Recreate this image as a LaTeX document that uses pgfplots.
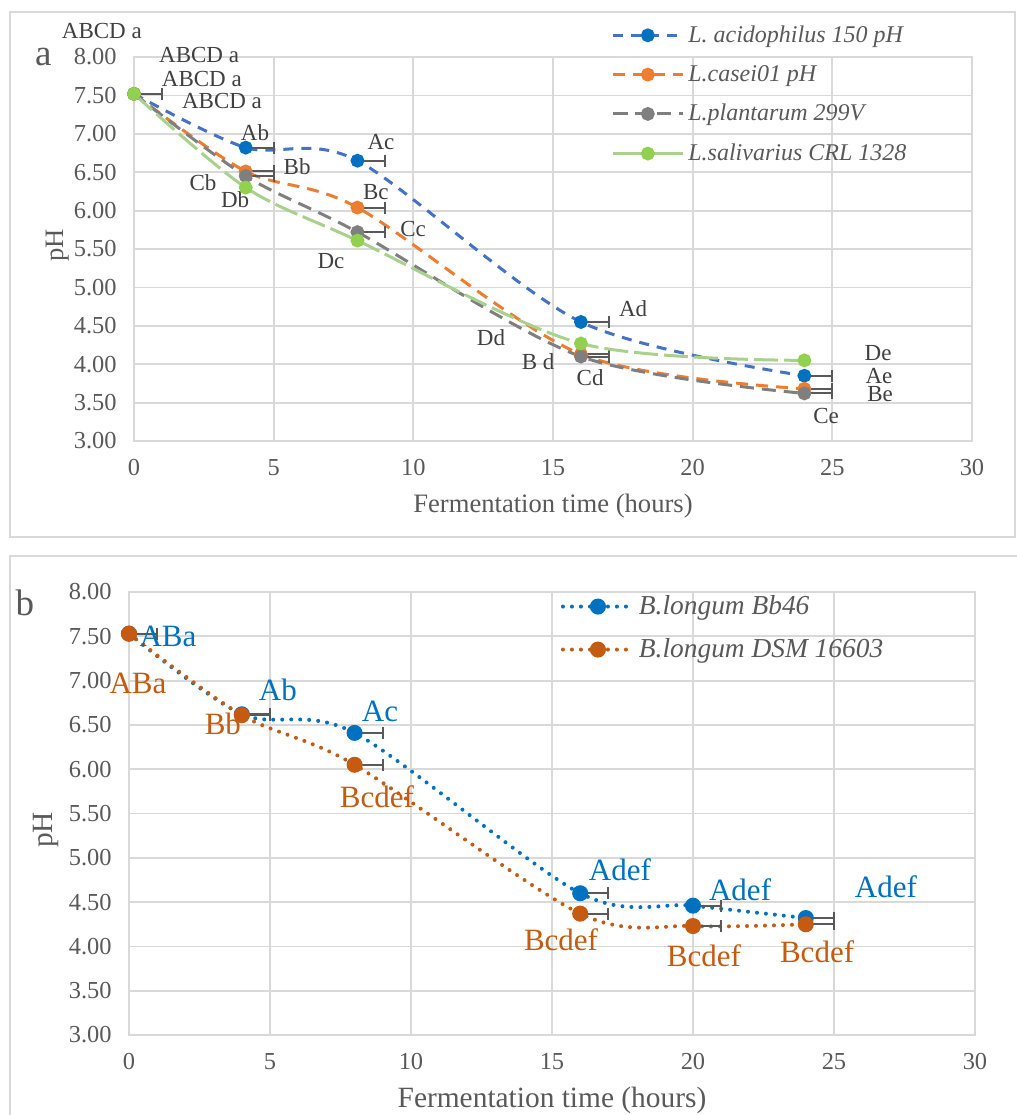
\documentclass[border=0pt]{standalone}
\usepackage{fontspec}
\setmainfont{Liberation Serif}
\usepackage{pgfplots}
\pgfplotsset{compat=1.18}

\definecolor{gridc}{HTML}{D9D9D9}
\definecolor{txt}{HTML}{595959}
\definecolor{lab}{HTML}{404040}
\definecolor{cblue}{HTML}{4472C4}
\definecolor{mblue}{HTML}{0070C0}
\definecolor{corange}{HTML}{ED7D31}
\definecolor{cgray}{HTML}{7F7F7F}
\definecolor{cgreen}{HTML}{A9D18E}
\definecolor{mgreen}{HTML}{92D050}
\definecolor{borange}{HTML}{C55A11}

\pgfplotsset{
  excel/.style={
    scale only axis,
    xmin=0, xmax=30, ymin=3, ymax=8,
    xtick={0,5,...,30}, ytick={3,3.5,...,8},
    grid=major, major grid style={gridc, line width=0.9pt},
    axis line style={gridc, line width=0.9pt},
    major tick length=0pt,
    tick label style={font=\fontsize{12.2}{14}\selectfont, text=txt},
    /pgf/number format/assume math mode=true,
    yticklabel style={/pgf/number format/fixed, /pgf/number format/fixed zerofill,
      /pgf/number format/precision=2, inner sep=0pt, xshift=-8.5pt},
    xticklabel style={inner sep=0pt, yshift=-9pt},
    label style={font=\fontsize{13.3}{15}\selectfont, text=txt},
    xlabel={Fermentation time (hours)},
    ylabel={pH},
    clip=false,
    legend cell align=left,
    legend image code/.code={\draw[mark repeat=2,mark phase=2,##1]
      plot coordinates {(0pt,0pt) (17.5pt,0pt) (35pt,0pt)};},
  },
  solidlegend/.style={
    legend image code/.code={\draw[mark repeat=2,mark phase=2,##1,solid]
      plot coordinates {(0pt,0pt) (17.5pt,0pt) (35pt,0pt)};},
  },
  errx/.style={error bars/.cd, x dir=plus, x fixed=1, error mark=|,
    error bar style={txt, line width=1pt, solid},
    error mark options={txt, line width=1pt, solid, mark size=3pt}},
}

\begin{document}
\begin{tikzpicture}
% frames
\draw[gridc, line width=0.9pt] (5pt,-6pt) rectangle (507.5pt,-268.5pt);
\draw[gridc, line width=0.9pt] (5pt,-278pt) rectangle (515pt,-565pt);

% ---------------- panel a
\begin{axis}[excel,
  at={(67pt,-220.5pt)}, anchor=south west,
  width=419pt, height=192pt,
  xlabel style={at={(axis description cs:0.5,-0.169)}, anchor=center},
  ylabel style={at={(axis description cs:-0.091,0.51)}, anchor=center},
  legend style={at={(0.562,1.104)}, anchor=north west, draw=none, fill=none,
    font=\itshape\fontsize{12}{14}\selectfont, text=txt, row sep=6pt},
]
\addplot[cblue, line width=1.5pt, dash pattern=on 5pt off 4pt, smooth,
  mark=*, mark size=2.7pt, mark options={solid, fill=mblue, draw=mblue}, errx]
  coordinates {(0,7.52) (4,6.82) (8,6.65) (16,4.55) (24,3.85)};
\addlegendentry{L. acidophilus 150 pH}
\addplot[corange, line width=1.5pt, dash pattern=on 6pt off 4pt, smooth,
  mark=*, mark size=2.7pt, mark options={solid, fill=corange}, errx]
  coordinates {(0,7.52) (4,6.51) (8,6.04) (16,4.13) (24,3.68)};
\addlegendentry{L.casei01 pH}
\addplot[cgray, line width=1.5pt, dash pattern=on 7pt off 4pt, smooth,
  mark=*, mark size=2.7pt, mark options={solid, fill=cgray}, errx]
  coordinates {(0,7.52) (4,6.45) (8,5.72) (16,4.10) (24,3.62)};
\addlegendentry{L.plantarum 299V}
\addplot[cgreen, line width=1.5pt, dash pattern=on 12pt off 3pt, smooth,
  mark=*, mark size=2.7pt, mark options={solid, fill=mgreen, draw=mgreen}, solidlegend]
  coordinates {(0,7.52) (4,6.30) (8,5.61) (16,4.27) (24,4.05)};
\addlegendentry{L.salivarius CRL 1328}

\begin{scope}[every node/.style={font=\fontsize{11.5}{13}\selectfont, text=lab}]
\node at (axis cs:-1.15,8.34) {ABCD a};
\node at (axis cs:2.33,8.03) {ABCD a};
\node at (axis cs:2.43,7.71) {ABCD a};
\node at (axis cs:3.15,7.43) {ABCD a};
\node at (axis cs:4.33,7.02) {Ab};
\node at (axis cs:8.84,6.89) {Ac};
\node at (axis cs:5.84,6.57) {Bb};
\node at (axis cs:2.47,6.37) {Cb};
\node at (axis cs:3.62,6.14) {Db};
\node at (axis cs:8.66,6.24) {Bc};
\node at (axis cs:9.99,5.76) {Cc};
\node at (axis cs:7.05,5.34) {Dc};
\node at (axis cs:12.78,4.34) {Dd};
\node at (axis cs:14.47,4.03) {B d};
\node at (axis cs:16.33,3.82) {Cd};
\node at (axis cs:17.87,4.73) {Ad};
\node at (axis cs:26.64,4.15) {De};
\node at (axis cs:26.67,3.85) {Ae};
\node at (axis cs:26.71,3.61) {Be};
\node at (axis cs:24.78,3.33) {Ce};
\end{scope}
\node[font=\fontsize{18.5}{20}\selectfont, text=txt] at (axis cs:-3.25,8.0) {a};
\end{axis}

% ---------------- panel b
\begin{axis}[excel,
  at={(64.5pt,-517.5pt)}, anchor=south west,
  width=423pt, height=221.5pt,
  label style={font=\fontsize{14.7}{16}\selectfont, text=txt},
  xlabel style={at={(axis description cs:0.5,-0.147)}, anchor=center},
  ylabel style={at={(axis description cs:-0.098,0.463)}, anchor=center},
  legend style={at={(0.503,1.011)}, anchor=north west, draw=none, fill=none,
    font=\itshape\fontsize{13.7}{16}\selectfont, text=txt, row sep=6.5pt},
]
\addplot[mblue, line width=2pt, line cap=round, dash pattern=on 0pt off 4.5pt, smooth,
  mark=*, mark size=3pt, mark options={solid, fill=mblue}, errx]
  coordinates {(0,7.53) (4,6.62) (8,6.41) (16,4.60) (20,4.46) (24,4.32)};
\addlegendentry{B.longum Bb46}
\addplot[borange, line width=2pt, line cap=round, dash pattern=on 0pt off 4.5pt, smooth,
  mark=*, mark size=3pt, mark options={solid, fill=borange}, errx]
  coordinates {(0,7.53) (4,6.61) (8,6.05) (16,4.37) (20,4.23) (24,4.25)};
\addlegendentry{B.longum DSM 16603}

\begin{scope}[every node/.style={font=\fontsize{15.5}{17}\selectfont}]
\node[text=mblue] at (axis cs:1.38,7.50) {ABa};
\node[text=borange] at (axis cs:0.32,6.97) {ABa};
\node[text=mblue] at (axis cs:5.28,6.89) {Ab};
\node[text=borange] at (axis cs:3.33,6.51) {Bb};
\node[text=mblue] at (axis cs:8.90,6.65) {Ac};
\node[text=borange] at (axis cs:8.79,5.69) {Bcdef};
\node[text=mblue] at (axis cs:17.41,4.86) {Adef};
\node[text=borange] at (axis cs:15.32,4.07) {Bcdef};
\node[text=mblue] at (axis cs:21.67,4.64) {Adef};
\node[text=borange] at (axis cs:20.39,3.90) {Bcdef};
\node[text=mblue] at (axis cs:26.84,4.67) {Adef};
\node[text=borange] at (axis cs:24.40,3.94) {Bcdef};
\end{scope}
\node[font=\fontsize{18.5}{20}\selectfont, text=txt] at (axis cs:-3.69,7.88) {b};
\end{axis}

\pgfresetboundingbox
\path (0pt,0pt) rectangle (508.5pt,-557.5pt);
\end{tikzpicture}
\end{document}
